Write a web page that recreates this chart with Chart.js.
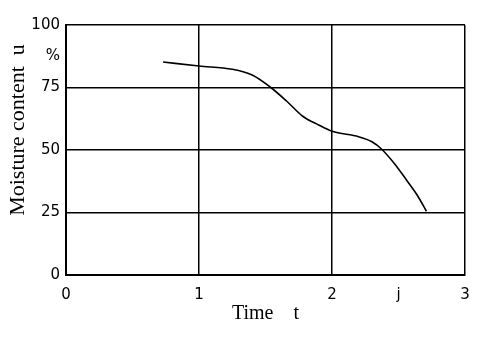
<!DOCTYPE html>
<html>
<head>
<meta charset="utf-8">
<script src="https://cdn.jsdelivr.net/npm/chart.js@4"></script>
<style>
  html, body { margin: 0; padding: 0; background: #ffffff; }
  #wrap { width: 500px; height: 344px; }
</style>
</head>
<body>
<div id="wrap"><canvas id="moistureChart"></canvas></div>
<script>
// drying curve
const timeValues = [0.73, 1.0, 1.25, 1.4, 1.54, 1.66, 1.78, 1.9, 2.0, 2.2, 2.3, 2.37, 2.47, 2.56, 2.64, 2.71];
const moistureValues = [85.2, 83.6, 82.3, 80, 75, 69.5, 63.5, 60, 57.5, 55.3, 53.3, 50.5, 44.5, 38, 32, 25.5];

// tick positions and their printed labels
const xTickValues = [0, 1, 2, 2.5, 3];
const xTickLabels = ['0', '1', '2', 'j', '3'];
const yTickValues = [0, 25, 50, 75, 87.5, 100];
const yTickLabels = ['0', '25', '50', '75', '%', '100'];

const yTitle = 'Moisture content  u';
const xTitle = 'Time    t';

// axis titles drawn by hand so they sit where the scan has them
const axisTitles = {
  id: 'axisTitles',
  afterDraw(chart) {
    const ctx = chart.ctx;
    const area = chart.chartArea;
    ctx.save();
    ctx.fillStyle = '#000';
    ctx.font = "20px 'Liberation Serif', serif";
    ctx.textAlign = 'center';
    ctx.textBaseline = 'middle';
    ctx.fillText(xTitle, (area.left + area.right) / 2, 314);
    ctx.translate(18, 130);
    ctx.rotate(-Math.PI / 2);
    ctx.font = "22px 'Liberation Serif', serif";
    ctx.fillText(yTitle, 0, 0);
    ctx.restore();
  }
};

const tickFont = { family: "'DejaVu Sans', sans-serif", size: 15 };

const config = {
  type: 'scatter',
  data: {
    datasets: [{
      data: timeValues.map((t, i) => ({ x: t, y: moistureValues[i] })),
      showLine: true,
      borderColor: '#000',
      borderWidth: 1.6,
      pointRadius: 0,
      cubicInterpolationMode: 'monotone'
    }]
  },
  options: {
    responsive: true,
    maintainAspectRatio: false,
    animation: false,
    layout: { padding: { top: 25, right: 35, left: 0, bottom: 0 } },
    plugins: {
      legend: { display: false },
      tooltip: { enabled: false }
    },
    scales: {
      x: {
        type: 'linear',
        min: 0,
        max: 3,
        afterBuildTicks: (scale) => { scale.ticks = xTickValues.map(v => ({ value: v })); },
        afterFit: (scale) => { scale.height = 69; },
        ticks: {
          color: '#000',
          font: tickFont,
          padding: 11,
          maxRotation: 0,
          autoSkip: false,
          callback: (v) => xTickLabels[xTickValues.indexOf(v)]
        },
        grid: {
          drawTicks: false,
          lineWidth: 1.5,
          color: (c) => (c.tick && c.tick.value === 2.5) ? 'rgba(0,0,0,0)' : '#000'
        },
        border: { display: true, color: '#000', width: 2 }
      },
      y: {
        min: 0,
        max: 100,
        afterBuildTicks: (scale) => { scale.ticks = yTickValues.map(v => ({ value: v })); },
        afterFit: (scale) => { scale.width = 66; },
        ticks: {
          color: '#000',
          font: tickFont,
          padding: 6,
          autoSkip: false,
          callback: (v) => yTickLabels[yTickValues.indexOf(v)]
        },
        grid: {
          drawTicks: false,
          lineWidth: 1.5,
          color: (c) => (c.tick && c.tick.value === 87.5) ? 'rgba(0,0,0,0)' : '#000'
        },
        border: { display: true, color: '#000', width: 2 }
      }
    }
  },
  plugins: [axisTitles]
};

new Chart(document.getElementById('moistureChart').getContext('2d'), config);
</script>
</body>
</html>
